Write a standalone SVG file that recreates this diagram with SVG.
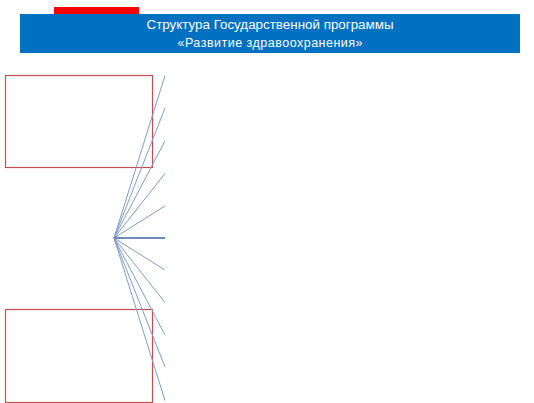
<svg xmlns="http://www.w3.org/2000/svg" width="534" height="403" viewBox="0 0 534 403">
<style>
.box{fill:none;stroke:#C0504D;stroke-width:1.2}
.ray{stroke:#7F9CC8;stroke-width:1;fill:none}
.main{stroke:#3A65A0;stroke-width:1.3}
.title{fill:#FFFFFF;font-family:"Liberation Sans",Arial,sans-serif;font-size:12.5px;text-anchor:middle}
</style>
<rect width="534" height="403" fill="#FFFFFF"/>
<g id="header">
<rect x="54" y="7" width="85" height="7" fill="#FF0000"/>
<rect x="20" y="14" width="500" height="39" fill="#0070C0"/>
<text class="title" x="270" y="29" textLength="247" lengthAdjust="spacingAndGlyphs">Структура Государственной программы</text>
<text class="title" x="270" y="47" textLength="185" lengthAdjust="spacing">«Развитие здравоохранения»</text>
</g>
<g id="box-top"><rect class="box" x="5.5" y="75.5" width="147" height="92"/></g>
<g id="box-bottom"><rect class="box" x="5.5" y="309.5" width="147" height="93"/></g>
<g id="connectors">
<line class="ray" x1="114" y1="238" x2="165" y2="75.5"/>
<line class="ray" x1="114" y1="238" x2="165" y2="108"/>
<line class="ray" x1="114" y1="238" x2="165" y2="141"/>
<line class="ray" x1="114" y1="238" x2="165" y2="173.5"/>
<line class="ray" x1="114" y1="238" x2="165" y2="206"/>
<line class="ray main" x1="114" y1="238" x2="165" y2="238"/>
<line class="ray" x1="114" y1="238" x2="165" y2="270"/>
<line class="ray" x1="114" y1="238" x2="165" y2="302.5"/>
<line class="ray" x1="114" y1="238" x2="165" y2="335"/>
<line class="ray" x1="114" y1="238" x2="165" y2="367"/>
<line class="ray" x1="114" y1="238" x2="165" y2="400.5"/>
</g>
</svg>
